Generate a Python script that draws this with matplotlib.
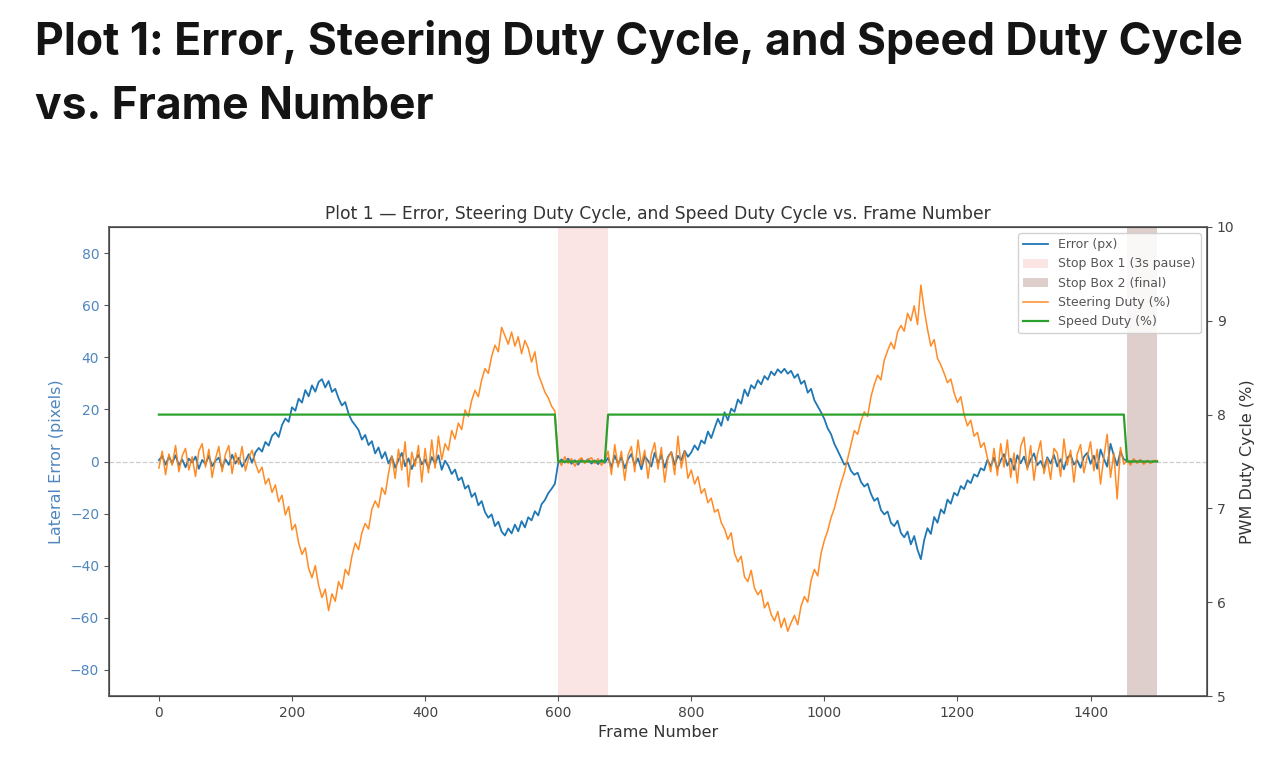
import matplotlib
matplotlib.use('Agg')
import matplotlib.pyplot as plt
import numpy as np

# frame numbers sampled every 5 frames (0..1500)
frames = np.arange(0, 1501, 5)

# lateral error in pixels
error_px = [
    0.5, 2.1, -1.2, 1.8, -0.6, 2.4, -1.5, 0.8, -2.2, 1.1,
    -0.4, 1.9, -2.8, 0.6, -1.0, 2.2, -1.8, 0.3, 1.5, -2.4,
    0.9, -1.3, 2.6, -0.8, 1.4, -2.0, 0.2, 2.8, -0.5, 3.5,
    5.2, 3.8, 7.5, 6.1, 9.8, 11.2, 9.4, 14.0, 16.5, 15.2,
    20.8, 19.5, 24.1, 22.6, 27.4, 25.0, 29.2, 26.8, 30.5, 31.6,
    28.4, 30.9, 26.7, 27.9, 24.2, 21.5, 22.8, 18.3, 15.6, 13.9,
    12.1, 8.4, 10.2, 6.3, 7.8, 3.1, 5.4, 1.2, 3.6, -0.8,
    1.9, -2.4, 0.6, 3.3, -1.8, 1.2, -2.9, 0.4, 2.6, -1.1,
    0.8, -2.6, 1.7, -0.9, 2.4, -3.2, 0.3, -1.7, -4.8, -3.1,
    -7.2, -6.1, -10.4, -9.2, -13.6, -12.1, -16.8, -15.2, -19.4, -21.6,
    -20.3, -24.8, -23.1, -26.9, -28.4, -25.7, -27.6, -24.2, -26.8, -22.9,
    -25.3, -21.4, -22.6, -19.1, -20.7, -16.4, -14.8, -12.2, -10.5, -8.6,
    -0.6, 0.8, -0.4, 1.1, -0.9, 0.5, -1.2, 0.7, -0.3, 0.9,
    -0.8, 0.4, -1.0, 0.6, -0.5, 1.4, -2.1, 2.3, -0.9, 1.6,
    -2.6, 0.8, 2.9, -1.4, 1.2, -3.0, 2.1, 0.3, -1.9, 3.4,
    -0.7, 2.5, -2.4, 1.8, 3.6, -1.3, 2.2, 0.5, 4.1, 1.8,
    3.5, 6.2, 4.4, 8.1, 6.9, 11.5, 9.0, 12.8, 16.4, 13.7,
    18.9, 15.8, 20.3, 19.1, 23.8, 22.2, 27.6, 25.1, 29.3, 28.0,
    31.2, 29.6, 32.8, 31.4, 34.5, 33.1, 35.4, 34.0, 35.6, 33.7,
    34.8, 32.1, 33.5, 29.8, 31.0, 26.4, 27.9, 23.5, 21.2, 18.9,
    16.3, 12.7, 10.5, 6.8, 4.2, 1.5, -1.2, -0.4, -3.6, -5.1,
    -4.3, -7.8, -9.6, -8.5, -12.4, -15.1, -14.0, -18.6, -20.3, -19.2,
    -23.5, -24.8, -22.7, -27.4, -29.1, -26.9, -31.8, -28.6, -33.9, -37.5,
    -30.2, -25.6, -27.8, -21.3, -23.5, -18.4, -19.9, -14.6, -16.2, -12.0,
    -13.1, -9.4, -10.6, -7.2, -8.3, -4.9, -5.8, -2.6, -3.4, 0.6,
    -1.8, 1.5, -2.9, 0.4, 2.8, -1.6, 1.1, -3.2, 2.4, -0.7,
    1.9, -2.3, 0.8, 3.1, -1.4, 0.2, -2.7, 1.6, -0.8, 2.5,
    -1.9, 0.9, -3.0, 1.4, 2.6, -1.2, 0.5, -2.4, 1.8, 3.3,
    -0.9, 2.2, -2.8, 4.6, 1.1, -2.0, 6.8, 2.3, -1.5, 3.9,
    0.8, 0.4, -0.5, 0.6, -0.3, 0.5, -0.6, 0.3, -0.4, 0.2,
    0.1,
]

# steering PWM duty (%)
steering_duty = [
    7.43, 7.61, 7.36, 7.58, 7.46, 7.67, 7.39, 7.56, 7.64, 7.41,
    7.55, 7.34, 7.61, 7.69, 7.44, 7.63, 7.33, 7.53, 7.66, 7.39,
    7.58, 7.67, 7.37, 7.59, 7.47, 7.66, 7.40, 7.54, 7.62, 7.48,
    7.38, 7.44, 7.26, 7.32, 7.17, 7.25, 7.07, 7.14, 6.93, 7.02,
    6.77, 6.83, 6.63, 6.51, 6.58, 6.36, 6.26, 6.39, 6.18, 6.05,
    6.14, 5.91, 6.09, 6.01, 6.22, 6.14, 6.35, 6.29, 6.49, 6.63,
    6.56, 6.74, 6.84, 6.78, 6.99, 7.08, 7.01, 7.22, 7.15, 7.37,
    7.56, 7.32, 7.63, 7.41, 7.71, 7.23, 7.60, 7.45, 7.67, 7.28,
    7.64, 7.38, 7.73, 7.43, 7.77, 7.52, 7.69, 7.62, 7.83, 7.74,
    7.91, 7.84, 8.05, 7.98, 8.15, 8.26, 8.19, 8.37, 8.49, 8.44,
    8.62, 8.74, 8.67, 8.93, 8.84, 8.75, 8.88, 8.73, 8.83, 8.65,
    8.79, 8.71, 8.56, 8.67, 8.43, 8.34, 8.24, 8.18, 8.09, 8.04,
    7.52, 7.46, 7.55, 7.48, 7.53, 7.45, 7.51, 7.54, 7.48, 7.52,
    7.54, 7.48, 7.53, 7.46, 7.51, 7.61, 7.36, 7.68, 7.44, 7.61,
    7.30, 7.57, 7.66, 7.39, 7.73, 7.46, 7.62, 7.32, 7.58, 7.70,
    7.42, 7.65, 7.28, 7.54, 7.60, 7.36, 7.77, 7.43, 7.61, 7.32,
    7.41, 7.26, 7.34, 7.16, 7.21, 7.06, 7.11, 6.96, 6.99, 6.85,
    6.78, 6.67, 6.74, 6.52, 6.43, 6.49, 6.27, 6.22, 6.34, 6.15,
    6.08, 6.13, 5.94, 6.00, 5.87, 5.80, 5.90, 5.73, 5.83, 5.69,
    5.78, 5.86, 5.76, 5.96, 6.06, 6.00, 6.23, 6.35, 6.28, 6.52,
    6.66, 6.76, 6.90, 7.00, 7.14, 7.27, 7.38, 7.53, 7.68, 7.83,
    7.79, 7.93, 8.03, 7.98, 8.19, 8.32, 8.42, 8.37, 8.58, 8.68,
    8.77, 8.70, 8.88, 8.95, 8.89, 9.08, 9.00, 9.16, 8.96, 9.38,
    9.12, 8.91, 8.73, 8.80, 8.60, 8.53, 8.44, 8.34, 8.38, 8.23,
    8.13, 8.19, 8.00, 7.88, 7.94, 7.77, 7.81, 7.65, 7.70, 7.54,
    7.39, 7.64, 7.35, 7.69, 7.44, 7.73, 7.33, 7.59, 7.27, 7.66,
    7.76, 7.41, 7.67, 7.30, 7.57, 7.72, 7.37, 7.53, 7.31, 7.64,
    7.59, 7.34, 7.74, 7.46, 7.62, 7.28, 7.58, 7.68, 7.38, 7.55,
    7.71, 7.40, 7.63, 7.26, 7.55, 7.79, 7.33, 7.59, 7.10, 7.65,
    7.47, 7.52, 7.46, 7.53, 7.48, 7.52, 7.47, 7.51, 7.48, 7.51,
    7.51,
]

# speed PWM duty (%): cruise 8.0, neutral 7.5 while stopped
speed_duty = [8.0] * 120 + [7.5] * 15 + [8.0] * 156 + [7.5] * 10

stop_box_1 = (600, 675)
stop_box_2 = (1455, 1500)

COLOR_ERR_TXT = '#4f86bd'
COLOR_GRIS = '#444444'

fig = plt.figure(figsize=(12.68, 7.6), dpi=100)

# page heading above the embedded chart
fig.text(35 / 1268, 1 - 55 / 760, 'Plot 1: Error, Steering Duty Cycle, and Speed Duty Cycle',
         fontsize=32, fontweight='bold', family='Inter', va='baseline', ha='left', color='#141414')
fig.text(35 / 1268, 1 - 119 / 760, 'vs. Frame Number',
         fontsize=32, fontweight='bold', family='Inter', va='baseline', ha='left', color='#141414')

ax = fig.add_axes([109 / 1268, 1 - 696 / 760, (1207 - 109) / 1268, (696 - 227) / 760])
ax2 = ax.twinx()

l_err, = ax.plot(frames, error_px, color='tab:blue', lw=1.3, label='Error (px)')
ax.axhline(0, color='gray', ls='--', lw=0.9, alpha=0.4)
p1 = ax.axvspan(*stop_box_1, color='tab:red', alpha=0.12, lw=0, label='Stop Box 1 (3s pause)')
p2 = ax.axvspan(*stop_box_2, color='tab:brown', alpha=0.28, lw=0, label='Stop Box 2 (final)')

l_steer, = ax2.plot(frames, steering_duty, color='tab:orange', lw=1.1, alpha=0.9, label='Steering Duty (%)')
l_speed, = ax2.plot(frames, speed_duty, color='tab:green', lw=1.6, label='Speed Duty (%)')

ax.set_xlim(-75, 1575)
ax.set_ylim(-90, 90)
ax2.set_ylim(5, 10)
ax.set_yticks([-80, -60, -40, -20, 0, 20, 40, 60, 80])
ax2.set_yticks([5, 6, 7, 8, 9, 10])

ax.set_xlabel('Frame Number', fontsize=11.5, color='#333333')
ax.set_ylabel('Lateral Error (pixels)', fontsize=11.5, color=COLOR_ERR_TXT)
ax2.set_ylabel('PWM Duty Cycle (%)', fontsize=11.5, color='#333333')
ax.tick_params(axis='y', labelsize=10, colors='#555555', labelcolor=COLOR_ERR_TXT)
ax.tick_params(axis='x', labelsize=10, colors='#555555', labelcolor=COLOR_GRIS)
ax2.tick_params(axis='y', labelsize=10, colors='#555555', labelcolor=COLOR_GRIS)
for sp in ax2.spines.values():
    sp.set_color('#555555')
    sp.set_linewidth(1.2)

ax.set_title('Plot 1 \u2014 Error, Steering Duty Cycle, and Speed Duty Cycle vs. Frame Number',
             fontsize=12.3, color='#333333', pad=6)

ax2.legend([l_err, p1, p2, l_steer, l_speed],
           ['Error (px)', 'Stop Box 1 (3s pause)', 'Stop Box 2 (final)', 'Steering Duty (%)', 'Speed Duty (%)'],
           loc='upper right', fontsize=9, labelcolor='#555555', framealpha=0.85)

fig.savefig('out.png', dpi=100)
